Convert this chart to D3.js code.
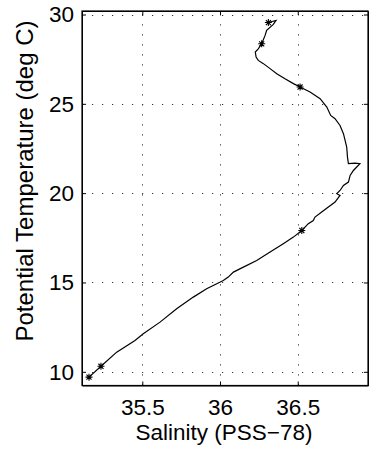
<!DOCTYPE html>
<html>
<head>
<meta charset="utf-8">
<script src="https://cdn.jsdelivr.net/npm/d3@7"></script>
<style>
  body { margin: 0; background: #fff; }
  svg { display: block; font-family: "Liberation Sans", Arial, Helvetica, sans-serif; }
  .axis path, .axis line { stroke: #000; }
  .axis text { font-size: 22.5px; fill: #000; }
  .grid line { stroke: #333; stroke-dasharray: 1.2,8.8; }
  .chart-label { font-size: 22.5px; fill: #000; }
  .y-label { font-size: 24px; }
</style>
</head>
<body>
<div class="chart"></div>
<script>
// theta-S profile (salinity, potential temperature)
let salinity = [36.311, 36.36, 36.343, 36.30, 36.29, 36.268, 36.246, 36.227, 36.232, 36.246,
  36.279, 36.322, 36.365, 36.418, 36.472, 36.515, 36.579, 36.644, 36.687, 36.712,
  36.74, 36.772, 36.794, 36.815, 36.82, 36.826, 36.869, 36.90, 36.858, 36.837,
  36.826, 36.794, 36.772, 36.751, 36.772, 36.74, 36.697, 36.654, 36.611, 36.60,
  36.568, 36.526, 36.472, 36.407, 36.322, 36.236, 36.15, 36.086, 36.053, 36.021,
  35.979, 35.914, 35.828, 35.721, 35.614, 35.506, 35.453, 35.335, 35.234, 35.157];
let theta = [29.55, 29.67, 29.45, 29.11, 28.83, 28.36, 28.08, 27.90, 27.62, 27.43,
  27.25, 26.97, 26.69, 26.40, 26.13, 25.94, 25.66, 25.29, 24.82, 24.35,
  24.17, 23.79, 23.33, 22.58, 22.02, 21.65, 21.68, 21.65, 21.27, 20.99,
  20.62, 20.43, 20.15, 19.97, 19.87, 19.50, 19.22, 18.94, 18.66, 18.47,
  18.29, 17.91, 17.54, 17.17, 16.70, 16.23, 15.86, 15.58, 15.30, 15.11,
  14.93, 14.65, 14.18, 13.53, 12.78, 12.13, 11.75, 11.10, 10.31, 9.70];

// star markers
let markSalinity = [36.311, 36.268, 36.515, 36.526, 35.234, 35.157];
let markTheta = [29.55, 28.36, 25.94, 17.91, 10.31, 9.70];

let xTicks = [35.5, 36, 36.5];
let yTicks = [10, 15, 20, 25, 30];

let width = 369,
  height = 454,
  margin = {top: 11, right: 1, bottom: 68.5, left: 82};

let innerW = width - margin.left - margin.right,
  innerH = height - margin.top - margin.bottom;

let svg = d3.select(".chart")
  .append("svg")
  .attr("width", width)
  .attr("height", height)
  .append("g")
  .attr("transform", `translate(${margin.left},${margin.top})`);

let xScale = d3.scaleLinear().domain([35.112, 36.952]).range([0, innerW]);
let yScale = d3.scaleLinear().domain([9.233, 30.196]).range([innerH, 0]);

// dotted grid
svg.append("g")
  .attr("class", "grid")
  .selectAll("line.v")
  .data(xTicks)
  .enter().append("line")
  .attr("x1", d => Math.round(xScale(d)) + 0.5)
  .attr("x2", d => Math.round(xScale(d)) + 0.5)
  .attr("y1", innerH)
  .attr("y2", 0);

svg.append("g")
  .attr("class", "grid")
  .selectAll("line.h")
  .data(yTicks)
  .enter().append("line")
  .attr("y1", d => Math.round(yScale(d)) + 0.5)
  .attr("y2", d => Math.round(yScale(d)) + 0.5)
  .attr("x1", 0)
  .attr("x2", innerW);

// the profile
let line = d3.line()
  .x((d, i) => xScale(salinity[i]))
  .y((d, i) => yScale(theta[i]));

svg.append("path")
  .datum(salinity)
  .attr("fill", "none")
  .attr("stroke", "#000")
  .attr("stroke-width", 1.2)
  .attr("d", line);

// asterisk markers (plus + cross)
let r = 3.5, q = r * 0.72;
svg.selectAll(".star")
  .data(markSalinity)
  .enter().append("path")
  .attr("class", "star")
  .attr("transform", (d, i) => `translate(${xScale(d)},${yScale(markTheta[i])})`)
  .attr("d", `M${-r},0L${r},0M0,${-r}L0,${r}M${-q},${-q}L${q},${q}M${-q},${q}L${q},${-q}`)
  .attr("stroke", "#000")
  .attr("stroke-width", 1.1)
  .attr("fill", "none");

// axes, ticks inward on all four sides
let xAxis = d3.axisBottom(xScale).tickValues(xTicks).tickFormat(d3.format("")).tickSizeInner(-4).tickSizeOuter(0).tickPadding(8);
let yAxis = d3.axisLeft(yScale).tickValues(yTicks).tickFormat(d3.format("")).tickSizeInner(-4).tickSizeOuter(0).tickPadding(8);

svg.append("g")
  .attr("class", "x axis")
  .attr("transform", `translate(0,${innerH})`)
  .call(xAxis)
  .selectAll("text").attr("dy", "0.95em");

svg.append("g")
  .attr("class", "y axis")
  .call(yAxis);

svg.append("g")
  .attr("class", "axis")
  .call(d3.axisTop(xScale).tickValues(xTicks).tickSizeInner(-4).tickSizeOuter(0).tickFormat(""));

svg.append("g")
  .attr("class", "axis")
  .attr("transform", `translate(${innerW},0)`)
  .call(d3.axisRight(yScale).tickValues(yTicks).tickSizeInner(-4).tickSizeOuter(0).tickFormat(""));

svg.append("rect")
  .attr("x", 0)
  .attr("y", 0)
  .attr("width", innerW)
  .attr("height", innerH)
  .attr("fill", "none")
  .attr("stroke", "#000")
  .attr("stroke-width", 1.2);

// axis titles
svg.append("text")
  .attr("class", "chart-label")
  .attr("text-anchor", "middle")
  .attr("x", xScale(36) + 4)
  .attr("y", innerH + 54)
  .text("Salinity (PSS\u221278)");

svg.append("text")
  .attr("class", "chart-label y-label")
  .attr("text-anchor", "middle")
  .attr("transform", `translate(${33 - margin.left},${181 - margin.top})rotate(-90)`)
  .text("Potential Temperature (deg C)");
</script>
</body>
</html>
